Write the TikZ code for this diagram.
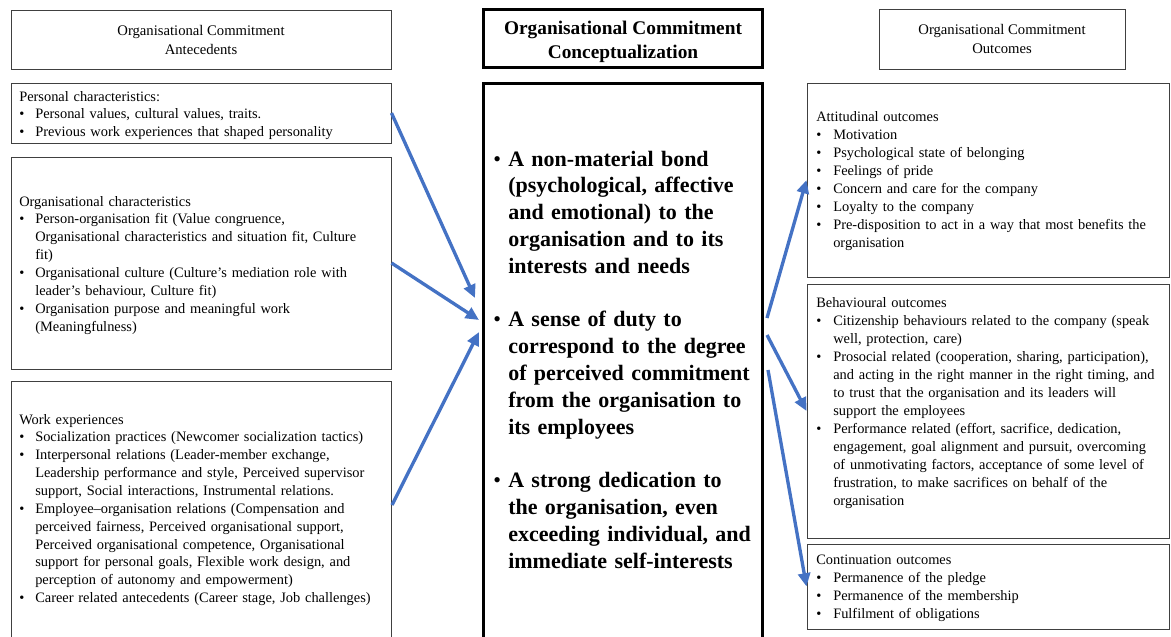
\documentclass[tikz,border=0pt]{standalone}
\usepackage{fontspec}
\setmainfont{Liberation Serif}
\usetikzlibrary{arrows.meta}
\definecolor{linkblue}{RGB}{68,114,196}
\definecolor{edgegrey}{RGB}{64,64,64}
\newlength{\ocindent}
\newcommand{\ocbul}{\makebox[\ocindent][l]{\mdseries\textbullet}}
\newcommand{\ocgap}{\hspace*{\ocindent}}
\tikzset{
  ocbox/.style={draw=edgegrey, line width=0.75pt, rectangle, inner sep=0pt},
  heavybox/.style={draw=black, line width=2.4pt, rectangle, inner sep=0pt},
  headtext/.style={align=center, font=\fontsize{11}{14.25}\selectfont},
  bodytext/.style={inner sep=0pt, anchor=base west, align=left, text width=300pt,
    font=\fontsize{10.8}{13.4}\selectfont\setlength{\ocindent}{12pt}},
  righttext/.style={bodytext, font=\fontsize{10.8}{13.5}\selectfont\setlength{\ocindent}{12.75pt}},
  centretext/.style={inner sep=0pt, anchor=base west, align=left, text width=220pt,
    font=\fontsize{16.5}{20.1}\selectfont\bfseries\setlength{\ocindent}{11.25pt}},
  link/.style={draw=linkblue, line width=2.5pt, -{Triangle[length=10pt,width=9pt]}}
}
\begin{document}
\begin{tikzpicture}[x=0.75pt,y=-0.75pt]
\useasboundingbox (0,0) rectangle (1171,636);
\clip (0,0) rectangle (1171,636);

% column headings
\node[ocbox, headtext, minimum width=285pt, minimum height=44.25pt] (lhead) at (201,39.5)
  {Organisational Commitment\\Antecedents};
\node[heavybox, minimum width=209.25pt, minimum height=43.5pt] (chead) at (623,38.5) {};
\node[align=center, inner sep=0pt, font=\fontsize{14.5}{18}\selectfont\bfseries]
  (cheadtxt) at (623,41.5) {Organisational Commitment\\Conceptualization};
\node[ocbox, headtext, minimum width=184.5pt, minimum height=45pt] (rhead) at (1002,39)
  {Organisational Commitment\\Outcomes};

% antecedent boxes
\node[ocbox, minimum width=285pt, minimum height=45pt] (pers) at (201,113) {};
\node[ocbox, minimum width=285pt, minimum height=159pt] (orgc) at (201,263) {};
\node[ocbox, minimum width=285pt, minimum height=201.75pt] (work) at (201,515.5) {};

% conceptualization box
\node[heavybox, minimum width=209.25pt, minimum height=432.4pt] (conc) at (623,371.75) {};

% outcome boxes
\node[ocbox, minimum width=271.5pt, minimum height=145.5pt] (att) at (988,180) {};
\node[ocbox, minimum width=271.5pt, minimum height=190.5pt] (beh) at (988,411) {};
\node[ocbox, minimum width=271.5pt, minimum height=63.75pt] (cont) at (988,586.5) {};

% antecedent texts
\node[bodytext] (perstxt) at (19,101) {Personal characteristics:\\
\ocbul Personal values, cultural values, traits.\\
\ocbul Previous work experiences that shaped personality};

\node[bodytext] (orgctxt) at (19,206) {Organisational characteristics\\
\ocbul Person-organisation fit (Value congruence,\\
\ocgap Organisational characteristics and situation fit, Culture\\
\ocgap fit)\\
\ocbul Organisational culture (Culture’s mediation role with\\
\ocgap leader’s behaviour, Culture fit)\\
\ocbul Organisation purpose and meaningful work\\
\ocgap (Meaningfulness)};

\node[bodytext] (worktxt) at (19,424) {Work experiences\\
\ocbul Socialization practices (Newcomer socialization tactics)\\
\ocbul Interpersonal relations (Leader-member exchange,\\
\ocgap Leadership performance and style, Perceived supervisor\\
\ocgap support, Social interactions, Instrumental relations.\\
\ocbul Employee–organisation relations (Compensation and\\
\ocgap perceived fairness, Perceived organisational support,\\
\ocgap Perceived organisational competence, Organisational\\
\ocgap support for personal goals, Flexible work design, and\\
\ocgap perception of autonomy and empowerment)\\
\ocbul Career related antecedents (Career stage, Job challenges)};

% conceptualization text
\node[centretext] (conctxt) at (493,166) {\ocbul A non-material bond\\
\ocgap (psychological, affective\\
\ocgap and emotional) to the\\
\ocgap organisation and to its\\
\ocgap interests and needs\\[20.1pt]
\ocbul A sense of duty to\\
\ocgap correspond to the degree\\
\ocgap of perceived commitment\\
\ocgap from the organisation to\\
\ocgap its employees\\[20.1pt]
\ocbul A strong dedication to\\
\ocgap the organisation, even\\
\ocgap exceeding individual, and\\
\ocgap immediate self-interests};

% outcome texts
\node[righttext] (atttxt) at (816,121) {Attitudinal outcomes\\
\ocbul Motivation\\
\ocbul Psychological state of belonging\\
\ocbul Feelings of pride\\
\ocbul Concern and care for the company\\
\ocbul Loyalty to the company\\
\ocbul Pre-disposition to act in a way that most benefits the\\
\ocgap organisation};

\node[righttext] (behtxt) at (816,307) {Behavioural outcomes\\
\ocbul Citizenship behaviours related to the company (speak\\
\ocgap well, protection, care)\\
\ocbul Prosocial related (cooperation, sharing, participation),\\
\ocgap and acting in the right manner in the right timing, and\\
\ocgap to trust that the organisation and its leaders will\\
\ocgap support the employees\\
\ocbul Performance related (effort, sacrifice, dedication,\\
\ocgap engagement, goal alignment and pursuit, overcoming\\
\ocgap of unmotivating factors, acceptance of some level of\\
\ocgap frustration, to make sacrifices on behalf of the\\
\ocgap organisation};

\node[righttext] (conttxt) at (816,564) {Continuation outcomes\\
\ocbul Permanence of the pledge\\
\ocbul Permanence of the membership\\
\ocbul Fulfilment of obligations};

% arrow end points on the conceptualization box
\coordinate (in1) at (475,298);
\coordinate (in2) at (479,320);
\coordinate (in3) at (479,332);
\coordinate (out1) at (767,318);
\coordinate (out2) at (767,335);
\coordinate (out3) at (768,370);
\coordinate (workout) at (392,505);

% connectors
\draw[link] (pers.east) -- (in1);
\draw[link] (orgc.east) -- (in2);
\draw[link] (workout) -- (in3);
\draw[link] (out1) -- (att.west);
\draw[link] (out2) -- (beh.west);
\draw[link] (out3) -- (cont.west);
\end{tikzpicture}
\end{document}
